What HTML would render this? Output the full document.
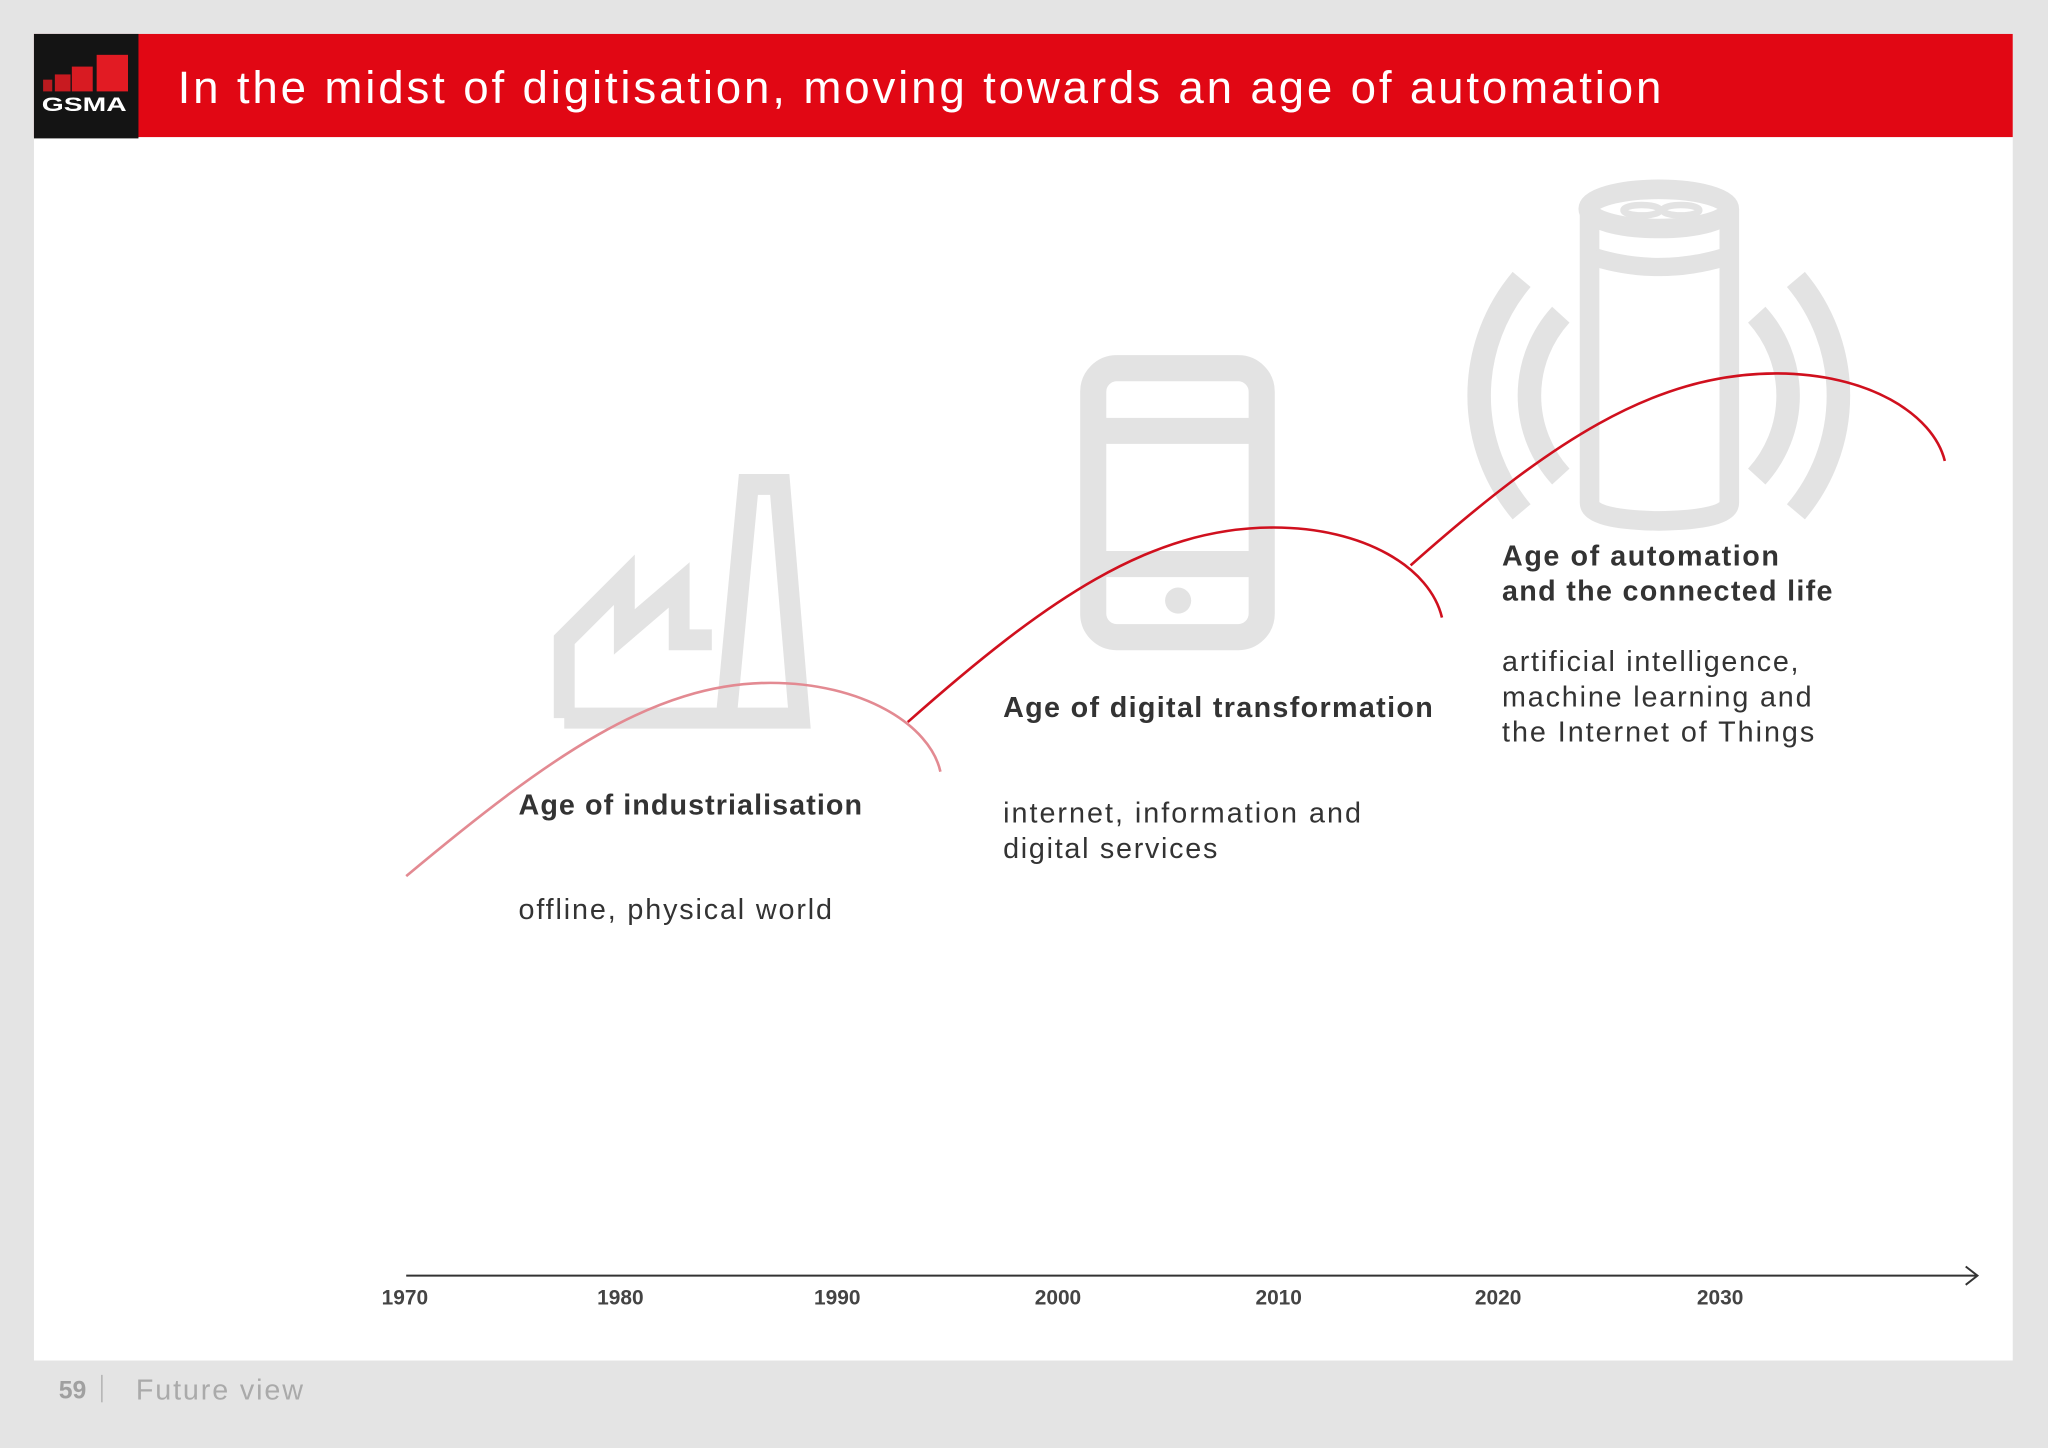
<!DOCTYPE html>
<html><head><meta charset="utf-8"><style>
html,body{margin:0;padding:0;background:#e4e4e4;}
svg{display:block;}
text{font-family:"Liberation Sans",sans-serif;}
</style></head><body>
<svg width="2048" height="1448" viewBox="0 0 1568 1109" preserveAspectRatio="none" xmlns="http://www.w3.org/2000/svg">
<rect width="1568" height="1109" fill="#e4e4e4"/>
<rect x="26" y="26" width="1515" height="1016" fill="#ffffff"/>
<rect x="26" y="26" width="1515" height="79" fill="#e10714"/>
<rect x="26" y="26" width="80" height="80" fill="#141414"/>
<rect x="33" y="61" width="7" height="9" fill="#b81a1f"/>
<rect x="42" y="57" width="12" height="13" fill="#c81a20"/>
<rect x="55" y="51" width="16" height="19" fill="#d81b22"/>
<rect x="74" y="42" width="24" height="28" fill="#e21b23"/>
<text x="32" y="85" font-size="15" font-weight="bold" fill="#fff" textLength="65" lengthAdjust="spacingAndGlyphs">GSMA</text>
<text x="136" y="79" font-size="35" fill="#fff" font-weight="300" textLength="1136" lengthAdjust="spacing">In the midst of digitisation, moving towards an age of automation</text>

<!-- factory -->
<g fill="none" stroke="#e3e3e3" stroke-width="16" stroke-linejoin="miter">
<path d="M432,550 L432,490 L478,444 L478,484 L520,448 L520,490 L545,490"/>
<path d="M432,550 L612,550 L597,371 L573,371 L556,550"/>
</g>
<!-- phone -->
<g fill="none" stroke="#e3e3e3">
<rect x="837" y="282" width="129" height="206" rx="18" stroke-width="20"/>
<line x1="840" y1="330" x2="965" y2="330" stroke-width="20"/>
<line x1="840" y1="432" x2="965" y2="432" stroke-width="20"/>
</g>
<circle cx="902" cy="460" r="10" fill="#e3e3e3"/>
<!-- speaker -->
<g fill="none" stroke="#e3e3e3">
<path d="M1217,160 L1217,385 Q1217,398 1270,399 Q1324,398 1324,385 L1324,160" stroke-width="15"/>
<ellipse cx="1270" cy="160" rx="54" ry="15" stroke-width="15"/>
<path d="M1221,197 Q1270,212 1320,197" stroke-width="14"/>
<ellipse cx="1257" cy="161" rx="14" ry="4" stroke-width="5"/>
<ellipse cx="1287" cy="161" rx="14" ry="4" stroke-width="5"/>
<path d="M1165,214 A138,138 0 0 0 1165,392" stroke-width="18"/>
<path d="M1195,241 A92,92 0 0 0 1195,365" stroke-width="18"/>
<path d="M1375,214 A138,138 0 0 1 1375,392" stroke-width="18"/>
<path d="M1345,241 A92,92 0 0 1 1345,365" stroke-width="18"/>
</g>
<!-- curves -->
<path d="M311,671 C420,580 500,523 590,523 C660,523 712,555 720,591" fill="none" stroke="#e38a92" stroke-width="2"/>
<path d="M695,553 C800,460 880,404 975,404 C1045,404 1095,435 1104,473" fill="none" stroke="#d0101e" stroke-width="2"/>
<path d="M1080,433 C1185,340 1265,286 1360,286 C1430,286 1480,317 1489,353" fill="none" stroke="#d0101e" stroke-width="2"/>
<!-- texts -->
<g fill="#333" font-size="22">
<text x="397" y="624" font-weight="bold" textLength="263" lengthAdjust="spacing">Age of industrialisation</text>
<text x="397" y="704" textLength="240" lengthAdjust="spacing">offline, physical world</text>
<text x="768" y="549" font-weight="bold" textLength="329" lengthAdjust="spacing">Age of digital transformation</text>
<text x="768" y="630" textLength="274" lengthAdjust="spacing">internet, information and</text>
<text x="768" y="657" textLength="164" lengthAdjust="spacing">digital services</text>
<text x="1150" y="433" font-weight="bold" textLength="212" lengthAdjust="spacing">Age of automation</text>
<text x="1150" y="460" font-weight="bold" textLength="253" lengthAdjust="spacing">and the connected life</text>
<text x="1150" y="514" textLength="227" lengthAdjust="spacing">artificial intelligence,</text>
<text x="1150" y="541" textLength="237" lengthAdjust="spacing">machine learning and</text>
<text x="1150" y="568" textLength="239" lengthAdjust="spacing">the Internet of Things</text>
</g>
<!-- axis -->
<line x1="311" y1="977" x2="1514" y2="977" stroke="#333" stroke-width="1.5"/>
<path d="M1505,970 L1514,977 L1505,984" fill="none" stroke="#333" stroke-width="1.5"/>
<g fill="#444" font-size="16" font-weight="bold" text-anchor="middle">
<text x="310" y="999">1970</text><text x="475" y="999">1980</text><text x="641" y="999">1990</text><text x="810" y="999">2000</text><text x="979" y="999">2010</text><text x="1147" y="999">2020</text><text x="1317" y="999">2030</text>
</g>
<text x="45" y="1071" font-size="19" font-weight="bold" fill="#a0a0a0">59</text>
<line x1="78" y1="1053" x2="78" y2="1074" stroke="#aaa" stroke-width="1"/>
<text x="104" y="1072" font-size="22" fill="#aaa" font-weight="300" textLength="128" lengthAdjust="spacing">Future view</text>
</svg>
</body></html>
